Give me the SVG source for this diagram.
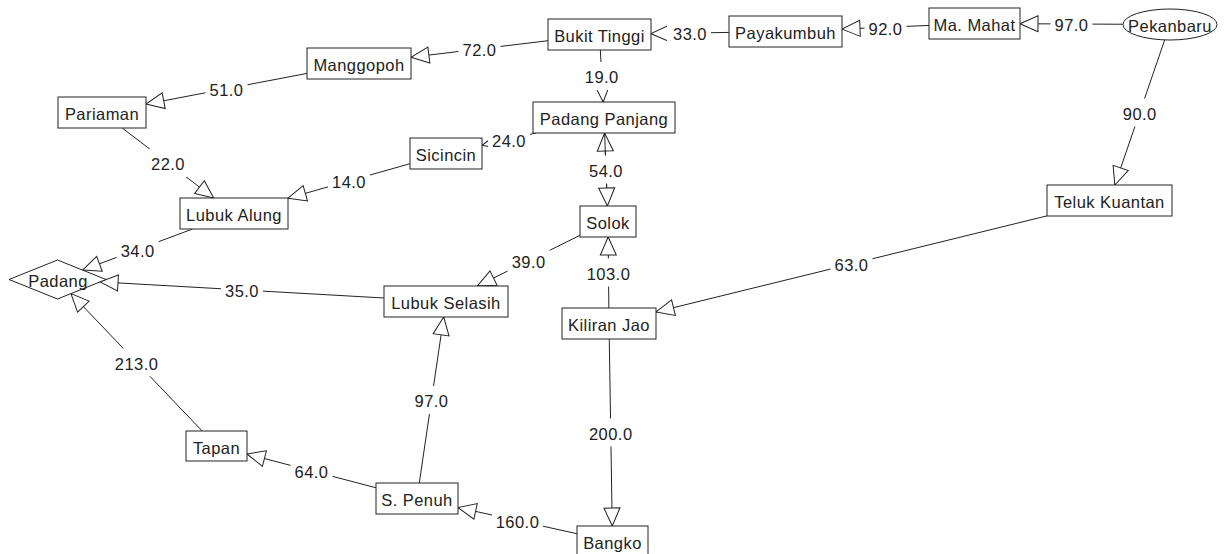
<svg xmlns="http://www.w3.org/2000/svg" width="1226" height="554" viewBox="0 0 1226 554">
  <style>
    .edge { fill: none; stroke: #222; stroke-width: 1; marker-end: url(#open-arrow); }
    .node { fill: #fff; stroke: #222; stroke-width: 1; }
    .lbl-bg { fill: #fff; stroke: none; }
    text { font-family: "Liberation Sans", Arial, sans-serif; font-size: 16.5px; letter-spacing: 0.45px; fill: #222; text-anchor: middle; }
  </style>
  <defs>
    <!-- hollow triangular head, tip at the end of the path -->
    <marker id="open-arrow" markerUnits="userSpaceOnUse" viewBox="0 0 20 18" refX="19" refY="9" markerWidth="20" markerHeight="18" orient="auto">
      <path d="M19,9 L1,1 L1,17 Z" fill="#fff" stroke="#222" stroke-width="1"/>
    </marker>
  </defs>

  <rect width="1226" height="554" fill="#fff"/>

  <!-- roads, drawn from origin to destination -->
  <g id="connectors">
    <path class="edge" d="M1123,24.26 L1020,23.73"/>
    <path class="edge" d="M929,25.43 L842,29.11"/>
    <path class="edge" d="M729,32.41 L651,33.67"/>
    <path class="edge" d="M548,40.71 L411,57.23"/>
    <path class="edge" d="M307,73.41 L146,104.11"/>
    <path class="edge" d="M600.34,50 L603.16,102"/>
    <path class="edge" d="M122.26,128 L213.74,198"/>
    <path class="edge" d="M535.97,133 L482,145.3"/>
    <path class="edge" d="M410,163.69 L288,198.22"/>
    <path class="edge" d="M607.4,206 L604.6,133"/>
    <path class="edge" d="M604.6,133 L607.4,206"/>
    <path class="edge" d="M1164.7,39.9 L1114.83,185"/>
    <path class="edge" d="M192.56,229 L82.6,270.1"/>
    <path class="edge" d="M580,235.33 L477.4,286"/>
    <path class="edge" d="M608.85,308 L608.15,237"/>
    <path class="edge" d="M1047,215.86 L656,311.96"/>
    <path class="edge" d="M384,297.99 L100,281.9"/>
    <path class="edge" d="M202.17,431 L70.95,293.6"/>
    <path class="edge" d="M419.28,483 L443.72,317"/>
    <path class="edge" d="M609.25,339 L612.25,526"/>
    <path class="edge" d="M376,487.76 L247,453.99"/>
    <path class="edge" d="M577,533.69 L458,507.52"/>
  </g>

  <!-- distance labels on white plates -->
  <g id="edge-labels">
    <rect class="lbl-bg" x="1050.5" y="10" width="42" height="28"/><text x="1071.5" y="31.3">97.0</text>
    <rect class="lbl-bg" x="864.5" y="13.3" width="42" height="28"/><text x="885.5" y="34.6">92.0</text>
    <rect class="lbl-bg" x="667" y="19" width="44" height="28"/><text x="690" y="40.3">33.0</text>
    <rect class="lbl-bg" x="458.5" y="35" width="42" height="28"/><text x="479.5" y="56.3">72.0</text>
    <rect class="lbl-bg" x="205.5" y="74.8" width="42" height="28"/><text x="226.5" y="96.1">51.0</text>
    <rect class="lbl-bg" x="580.75" y="62" width="42" height="28"/><text x="601.75" y="83.3">19.0</text>
    <rect class="lbl-bg" x="147" y="149" width="42" height="28"/><text x="168" y="170.3">22.0</text>
    <rect class="lbl-bg" x="488" y="125.2" width="42" height="28"/><text x="509" y="146.5">24.0</text>
    <rect class="lbl-bg" x="328" y="167" width="42" height="28"/><text x="349" y="188.3">14.0</text>
    <rect class="lbl-bg" x="585" y="155.5" width="42" height="28"/><text x="606" y="176.8">54.0</text>
    <rect class="lbl-bg" x="1118.8" y="98.5" width="42" height="28"/><text x="1139.8" y="119.8">90.0</text>
    <rect class="lbl-bg" x="116.6" y="235.5" width="42" height="28"/><text x="137.6" y="256.8">34.0</text>
    <rect class="lbl-bg" x="507.7" y="246.7" width="42" height="28"/><text x="528.7" y="268">39.0</text>
    <rect class="lbl-bg" x="583" y="258.5" width="51" height="28"/><text x="608.5" y="279.8">103.0</text>
    <rect class="lbl-bg" x="830.5" y="249.9" width="42" height="28"/><text x="851.5" y="271.2">63.0</text>
    <rect class="lbl-bg" x="221" y="275.9" width="42" height="28"/><text x="242" y="297.2">35.0</text>
    <rect class="lbl-bg" x="111.1" y="348.3" width="51" height="28"/><text x="136.6" y="369.6">213.0</text>
    <rect class="lbl-bg" x="410.5" y="386" width="42" height="28"/><text x="431.5" y="407.3">97.0</text>
    <rect class="lbl-bg" x="585.25" y="418.5" width="51" height="28"/><text x="610.75" y="439.8">200.0</text>
    <rect class="lbl-bg" x="290.5" y="456.9" width="42" height="28"/><text x="311.5" y="478.2">64.0</text>
    <rect class="lbl-bg" x="492" y="506.6" width="51" height="28"/><text x="517.5" y="527.9">160.0</text>
  </g>

  <!-- towns -->
  <g id="pekanbaru"><ellipse class="node" cx="1170" cy="24.5" rx="47" ry="15.5"/><text x="1170" y="32">Pekanbaru</text></g>
  <g id="ma-mahat"><rect class="node" x="929" y="8" width="91" height="31"/><text x="974.5" y="31">Ma. Mahat</text></g>
  <g id="payakumbuh"><rect class="node" x="729" y="16" width="113" height="31"/><text x="785.5" y="39">Payakumbuh</text></g>
  <g id="bukit-tinggi"><rect class="node" x="548" y="19" width="103" height="31"/><text x="599.5" y="42">Bukit Tinggi</text></g>
  <g id="manggopoh"><rect class="node" x="307" y="48" width="104" height="31"/><text x="359" y="71">Manggopoh</text></g>
  <g id="pariaman"><rect class="node" x="58" y="97" width="88" height="31"/><text x="102" y="120">Pariaman</text></g>
  <g id="padang-panjang"><rect class="node" x="533" y="102" width="142" height="31"/><text x="604" y="125">Padang Panjang</text></g>
  <g id="sicincin"><rect class="node" x="410" y="138" width="72" height="31"/><text x="446" y="161">Sicincin</text></g>
  <g id="lubuk-alung"><rect class="node" x="180" y="198" width="108" height="31"/><text x="234" y="221">Lubuk Alung</text></g>
  <g id="solok"><rect class="node" x="580" y="206" width="56" height="31"/><text x="608" y="229">Solok</text></g>
  <g id="teluk-kuantan"><rect class="node" x="1047" y="185" width="125" height="31"/><text x="1109.5" y="208">Teluk Kuantan</text></g>
  <g id="padang"><polygon class="node" points="9,279.5 57.5,260 106,279.5 57.5,299"/><text x="58" y="286.7">Padang</text></g>
  <g id="lubuk-selasih"><rect class="node" x="384" y="286" width="124" height="31"/><text x="446" y="309">Lubuk Selasih</text></g>
  <g id="kiliran-jao"><rect class="node" x="562" y="308" width="94" height="31"/><text x="609" y="331">Kiliran Jao</text></g>
  <g id="tapan"><rect class="node" x="186" y="431" width="61" height="30"/><text x="216.5" y="453.5">Tapan</text></g>
  <g id="s-penuh"><rect class="node" x="376" y="483" width="82" height="31"/><text x="417" y="506">S. Penuh</text></g>
  <g id="bangko"><rect class="node" x="577" y="526" width="71" height="31"/><text x="612.5" y="549">Bangko</text></g>
</svg>
